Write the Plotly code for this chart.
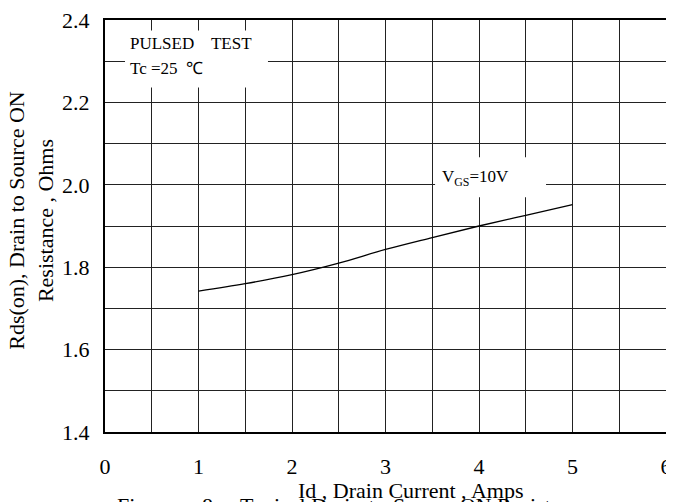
import plotly.graph_objects as go

# Data
id_amps = [1.0, 1.5, 2.0, 2.5, 3.0, 3.5, 4.0, 4.5, 5.0]
rds_on = [1.742, 1.760, 1.782, 1.810, 1.843, 1.872, 1.900, 1.926, 1.952]

x_ticks = [0, 1, 2, 3, 4, 5, 6]
y_ticks = [1.4, 1.6, 1.8, 2.0, 2.2, 2.4]

FONT = "Liberation Serif, Times New Roman, serif"

fig = go.Figure()
fig.add_trace(go.Scatter(x=id_amps, y=rds_on, mode="lines",
                         line=dict(color="black", width=1.3, shape="spline"),
                         showlegend=False))

axis_common = dict(showline=True, linecolor="black", linewidth=2, mirror=True,
                   showgrid=True, gridcolor="#222", gridwidth=1, automargin=False,
                   ticklabeloverflow="allow",
                   zeroline=False, ticks="outside", tickcolor="rgba(0,0,0,0)",
                   tickfont=dict(family=FONT, size=22, color="black"))

fig.update_xaxes(range=[0, 6], tickvals=x_ticks, ticklen=14,
                 minor=dict(dtick=0.5, showgrid=True, gridcolor="#222", gridwidth=1),
                 **axis_common)
fig.update_yaxes(range=[1.4, 2.4], tickvals=y_ticks, tickformat=".1f", ticklen=9,
                 minor=dict(dtick=0.1, showgrid=True, gridcolor="#222", gridwidth=1),
                 **axis_common)

# white boxes behind the in-plot labels
fig.add_shape(type="rect", xref="x", yref="y", x0=0.214, x1=1.743, y0=2.236, y1=2.3745,
              fillcolor="white", line=dict(width=0), layer="above")
fig.add_shape(type="rect", xref="x", yref="y", x0=3.53, x1=4.717, y0=1.97, y1=2.067,
              fillcolor="white", line=dict(width=0), layer="above")

ann_font = dict(family=FONT, size=17, color="black")
fig.add_annotation(x=0.246, y=2.343, xref="x", yref="y", text="PULSED    TEST",
                   showarrow=False, xanchor="left", yanchor="middle", font=ann_font)
fig.add_annotation(x=0.246, y=2.282, xref="x", yref="y", text="Tc =25  ℃",
                   showarrow=False, xanchor="left", yanchor="middle", font=ann_font)
fig.add_annotation(x=3.583, y=2.016, xref="x", yref="y",
                   text="V<sub>GS</sub>=10V",
                   showarrow=False, xanchor="left", yanchor="middle", font=ann_font)

# axis titles and caption
fig.add_annotation(x=-0.132, y=0.515, xref="paper", yref="paper",
                   text="Rds(on), Drain to Source ON<br>Resistance , Ohms",
                   textangle=-90, showarrow=False, xanchor="center", yanchor="middle",
                   font=dict(family=FONT, size=22, color="black"))
fig.add_annotation(x=0.018, y=-0.178, xref="paper", yref="paper",
                   text="Figure     8.    Typical Drain-to-Source ON Resistance",
                   showarrow=False, xanchor="left", yanchor="middle",
                   font=dict(family=FONT, size=22, color="black"))
fig.add_annotation(x=0.544, y=-0.141, xref="paper", yref="paper",
                   text="Id , Drain Current , Amps",
                   showarrow=False, xanchor="center", yanchor="middle",
                   font=dict(family=FONT, size=22, color="black"))

fig.update_layout(width=674, height=502,
                  margin=dict(l=97, r=16, t=12, b=78),
                  paper_bgcolor="white", plot_bgcolor="white",
                  font=dict(family=FONT, color="black"))

fig.write_html("out.html")
